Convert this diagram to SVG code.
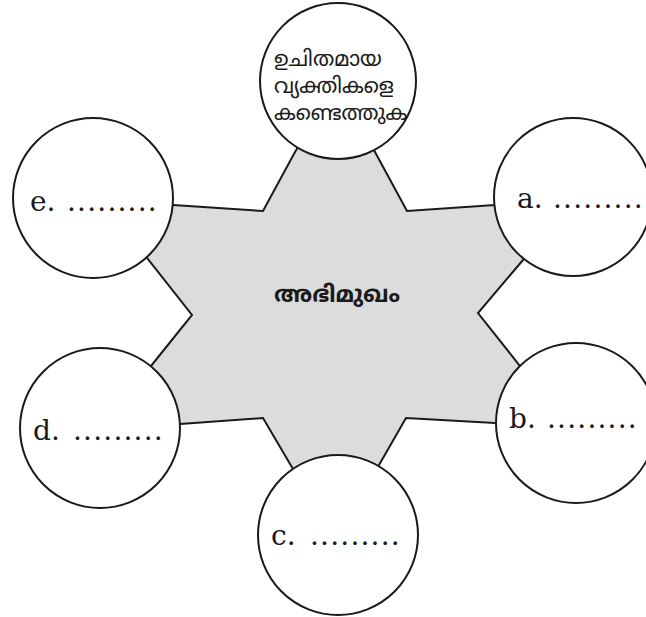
<svg xmlns="http://www.w3.org/2000/svg" width="646" height="617" viewBox="0 0 646 617">
<style>
.node circle{fill:#fff;stroke:#1a1a1a;stroke-width:2}
.lbl{font-family:"DejaVu Serif","Liberation Serif",serif;font-size:28px;fill:#1a1a1a}
.dots{letter-spacing:1.2px}
.ml{font-family:"Noto Sans Malayalam","Noto Sans","DejaVu Sans",sans-serif;font-size:21px;fill:#1a1a1a}
.center{font-family:"Noto Sans Malayalam","Noto Sans","DejaVu Sans",sans-serif;font-size:23px;font-weight:bold;fill:#1a1a1a}
</style>
<rect width="646" height="617" fill="#fff"/>
<g id="connectors">
<polygon points="295,152 338,81 375,152 407,211 495,205 573,197 523,260 478,313 520,366 576,423 495,423 406,418 379,465 338,535 293,469 263,418 180,424 100,428 151,366 192,315 147,258 93,198 173,205 263,211" fill="#dcdcdc" stroke="#1a1a1a" stroke-width="2" stroke-linejoin="miter"/>
</g>
<text class="center" x="337" y="302" text-anchor="middle">അഭിമുഖം</text>
<g id="node-top" class="node">
<circle cx="338" cy="81" r="78"/>
<text class="ml" x="274" y="66">ഉചിതമായ</text>
<text class="ml" x="274" y="93">വ്യക്തികളെ</text>
<text class="ml" x="274" y="120">കണ്ടെത്തുക</text>
</g>
<g id="node-a" class="node">
<circle cx="573" cy="197" r="79"/>
<text class="lbl" x="517" y="208">a.<tspan class="dots" x="553">.........</tspan></text>
</g>
<g id="node-b" class="node">
<circle cx="576" cy="423" r="80"/>
<text class="lbl" x="509" y="428">b.<tspan class="dots" x="547">.........</tspan></text>
</g>
<g id="node-c" class="node">
<circle cx="338" cy="535" r="80"/>
<text class="lbl" x="271" y="545">c.<tspan class="dots" x="310">.........</tspan></text>
</g>
<g id="node-d" class="node">
<circle cx="100" cy="428" r="80"/>
<text class="lbl" x="33" y="440">d.<tspan class="dots" x="73">.........</tspan></text>
</g>
<g id="node-e" class="node">
<circle cx="93" cy="198" r="80"/>
<text class="lbl" x="30" y="211">e.<tspan class="dots" x="67">.........</tspan></text>
</g>
</svg>
